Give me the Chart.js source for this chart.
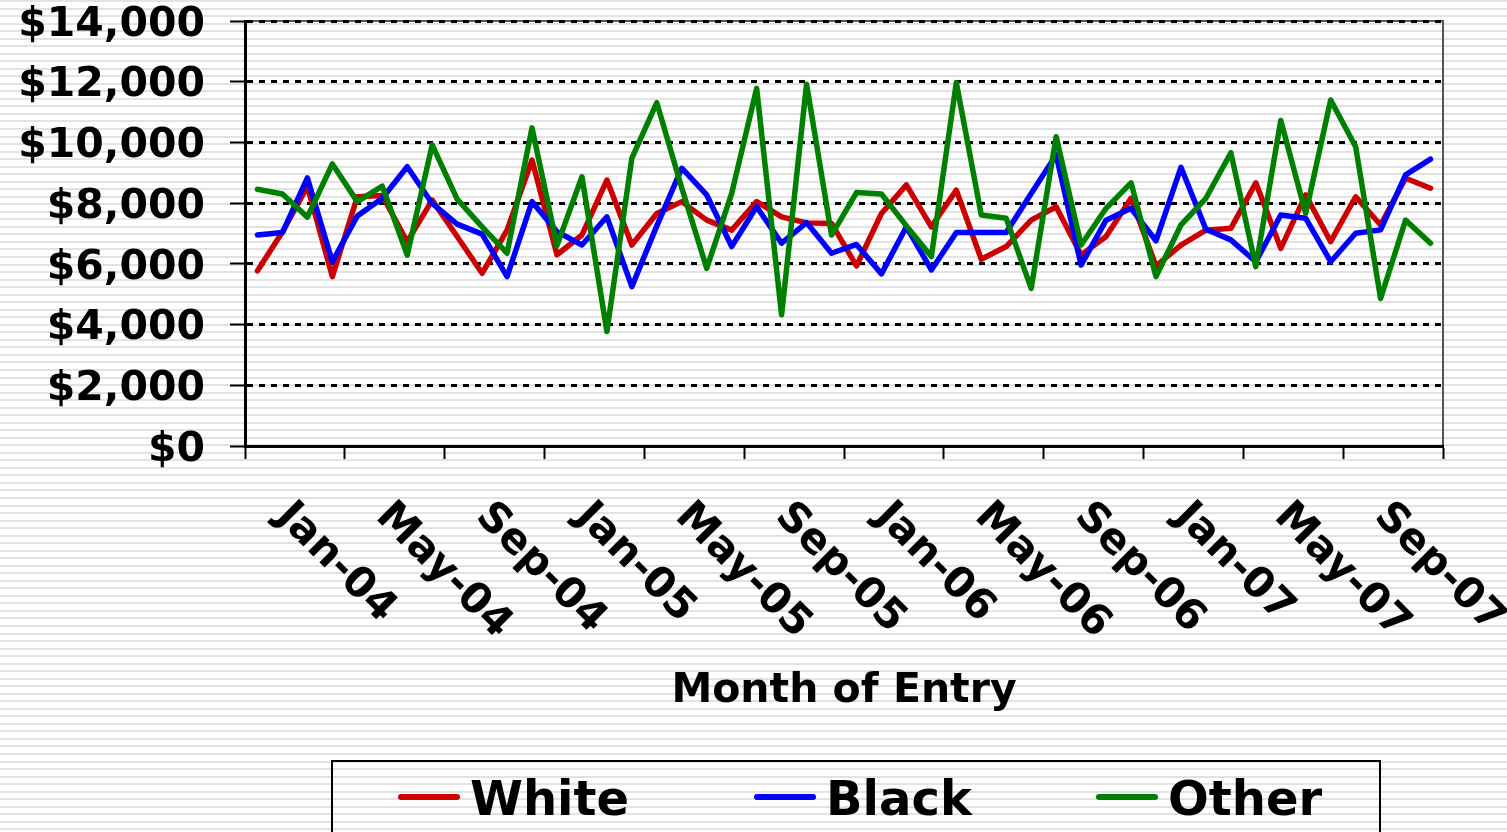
<!DOCTYPE html>
<html>
<head>
<meta charset="utf-8">
<script src="https://cdn.jsdelivr.net/npm/chart.js@4/dist/chart.umd.min.js"></script>
<style>
  html, body { margin: 0; padding: 0; }
  body {
    width: 1507px; height: 832px; overflow: hidden;
    background: repeating-linear-gradient(to bottom, #e2e2e2 0px, #e2e2e2 2px, #ffffff 2px, #ffffff 7.53px);
  }
  canvas { display: block; }
</style>
</head>
<body>
<canvas id="chart" width="1507" height="832"></canvas>
<script>
// Month of entry, Jan 2004 – Dec 2007
const months = [
  'Jan-04','Feb-04','Mar-04','Apr-04','May-04','Jun-04','Jul-04','Aug-04','Sep-04','Oct-04','Nov-04','Dec-04',
  'Jan-05','Feb-05','Mar-05','Apr-05','May-05','Jun-05','Jul-05','Aug-05','Sep-05','Oct-05','Nov-05','Dec-05',
  'Jan-06','Feb-06','Mar-06','Apr-06','May-06','Jun-06','Jul-06','Aug-06','Sep-06','Oct-06','Nov-06','Dec-06',
  'Jan-07','Feb-07','Mar-07','Apr-07','May-07','Jun-07','Jul-07','Aug-07','Sep-07','Oct-07','Nov-07','Dec-07'
];

// Month labels printed under the axis
const tickLabels = ['Jan-04','May-04','Sep-04','Jan-05','May-05','Sep-05','Jan-06','May-06','Sep-06','Jan-07','May-07','Sep-07'];

const white = [
  5770, 7050, 8550, 5580, 8210, 8250, 6730, 8100, 6900, 5690, 7110, 9420,
  6300, 6950, 8760, 6620, 7660, 8050, 7440, 7110, 8050, 7550, 7350, 7330,
  5930, 7660, 8600, 7220, 8430, 6150, 6570, 7440, 7880, 6290, 6900, 8160,
  5930, 6620, 7110, 7170, 8670, 6510, 8270, 6730, 8210, 7280, 8820, 8490
];
const black = [
  6950, 7030, 8830, 6070, 7580, 8160, 9200, 7990, 7310, 6980, 5580, 8050,
  7060, 6620, 7550, 5250, 7250, 9150, 8270, 6570, 7880, 6680, 7360, 6350,
  6640, 5670, 7220, 5800, 7030, 7030, 7030, 8320, 9590, 5960, 7440, 7830,
  6760, 9180, 7140, 6790, 6070, 7610, 7500, 6070, 7010, 7120, 8930, 9450
];
const other = [
  8460, 8300, 7540, 9290, 8050, 8560, 6290, 9920, 8130, 7220, 6350, 10480,
  6600, 8870, 3770, 9480, 11310, 8500, 5850, 8320, 11780, 4320, 11920, 6950,
  8350, 8300, 7250, 6240, 11970, 7610, 7500, 5190, 10190, 6620, 7830, 8670,
  5580, 7280, 8160, 9660, 5910, 10720, 7660, 11400, 9860, 4860, 7440, 6680
];

const seriesNames = ['White', 'Black', 'Other'];
const seriesColors = ['#cc0000', '#0000ff', '#008000'];

const FONT = 'DejaVu Sans';

// Grey frame on the top and right of the plot area
const plotFrame = {
  id: 'plotFrame',
  beforeDraw(chart) {
    const { ctx, chartArea: a } = chart;
    ctx.save();
    ctx.strokeStyle = '#555555';
    ctx.lineWidth = 2;
    ctx.beginPath();
    ctx.moveTo(a.left, a.top);
    ctx.lineTo(a.right, a.top);
    ctx.lineTo(a.right, a.bottom);
    ctx.stroke();
    ctx.restore();
  }
};

// Month labels slanted downward to the right, starting under each labelled month
const monthLabels = {
  id: 'monthLabels',
  afterDraw(chart) {
    const { ctx } = chart;
    const xs = chart.scales.x;
    ctx.save();
    ctx.font = 'bold 42px "' + FONT + '"';
    ctx.fillStyle = '#000';
    ctx.textAlign = 'left';
    ctx.textBaseline = 'middle';
    tickLabels.forEach(label => {
      const idx = months.indexOf(label);
      const x = xs.getPixelForValue(idx);
      ctx.save();
      ctx.translate(x + 25, xs.top + 64);
      ctx.rotate(Math.PI / 4);
      ctx.fillText(label, 0, 0);
      ctx.restore();
    });
    ctx.restore();
  }
};

// Boxed legend along the bottom edge
const boxedLegend = {
  id: 'boxedLegend',
  afterDraw(chart) {
    const { ctx } = chart;
    ctx.save();
    ctx.strokeStyle = '#000';
    ctx.lineWidth = 2;
    ctx.strokeRect(332, 761, 1048, 100);
    const starts = [401, 757, 1099];
    ctx.font = 'bold 48px "' + FONT + '"';
    ctx.textAlign = 'left';
    ctx.textBaseline = 'alphabetic';
    chart.data.datasets.forEach((ds, i) => {
      const x0 = starts[i];
      ctx.strokeStyle = ds.borderColor;
      ctx.lineWidth = 6;
      ctx.lineCap = 'round';
      ctx.beginPath();
      ctx.moveTo(x0, 797);
      ctx.lineTo(x0 + 56, 797);
      ctx.stroke();
      ctx.fillStyle = '#000';
      ctx.fillText(ds.label, x0 + 69, 815);
    });
    ctx.restore();
  }
};

const seriesData = [white, black, other];

new Chart(document.getElementById('chart'), {
  type: 'line',
  data: {
    labels: months,
    datasets: seriesNames.map((name, i) => ({
      label: name,
      data: seriesData[i],
      borderColor: seriesColors[i],
      backgroundColor: seriesColors[i],
      borderWidth: 5.5,
      pointRadius: 0,
      pointHoverRadius: 0,
      tension: 0,
      fill: false,
      borderJoinStyle: 'round',
      borderCapStyle: 'round',
      order: 3 - i
    }))
  },
  options: {
    responsive: false,
    animation: false,
    devicePixelRatio: 1,
    layout: { padding: { left: 0, top: 21, right: 64, bottom: 0 } },
    plugins: {
      legend: { display: false },
      tooltip: { enabled: false }
    },
    scales: {
      x: {
        type: 'category',
        offset: true,
        grid: {
          offset: true,
          drawOnChartArea: false,
          drawTicks: true,
          tickLength: 13,
          tickWidth: 2,
          tickColor: ctx => (ctx.index === undefined || ctx.index % 4 === 0) ? '#000' : 'rgba(0,0,0,0)'
        },
        border: { display: true, color: '#000', width: 3 },
        ticks: { display: false },
        title: {
          display: true,
          text: 'Month of Entry',
          color: '#000',
          font: { family: FONT, weight: 'bold', size: 41 },
          padding: { top: 0, bottom: 116 }
        },
        afterFit(scale) {
          scale.height = 386;
          scale.paddingLeft = 0;
          scale.paddingRight = 0;
        }
      },
      y: {
        min: 0,
        max: 14000,
        ticks: {
          stepSize: 2000,
          color: '#000',
          padding: 25,
          labelOffset: 4,
          font: { family: FONT, weight: 'bold', size: 41 },
          callback: v => '$' + Number(v).toLocaleString('en-US')
        },
        grid: {
          color: '#000',
          lineWidth: 3,
          tickLength: 15,
          tickWidth: 2,
          tickColor: '#000',
          tickBorderDash: []
        },
        border: { display: true, color: '#000', width: 3, dash: [6, 6] },
        afterFit(scale) {
          scale.width = 245;
          scale.paddingTop = 0;
          scale.paddingBottom = 0;
        }
      }
    }
  },
  plugins: [plotFrame, monthLabels, boxedLegend]
});
</script>
</body>
</html>
